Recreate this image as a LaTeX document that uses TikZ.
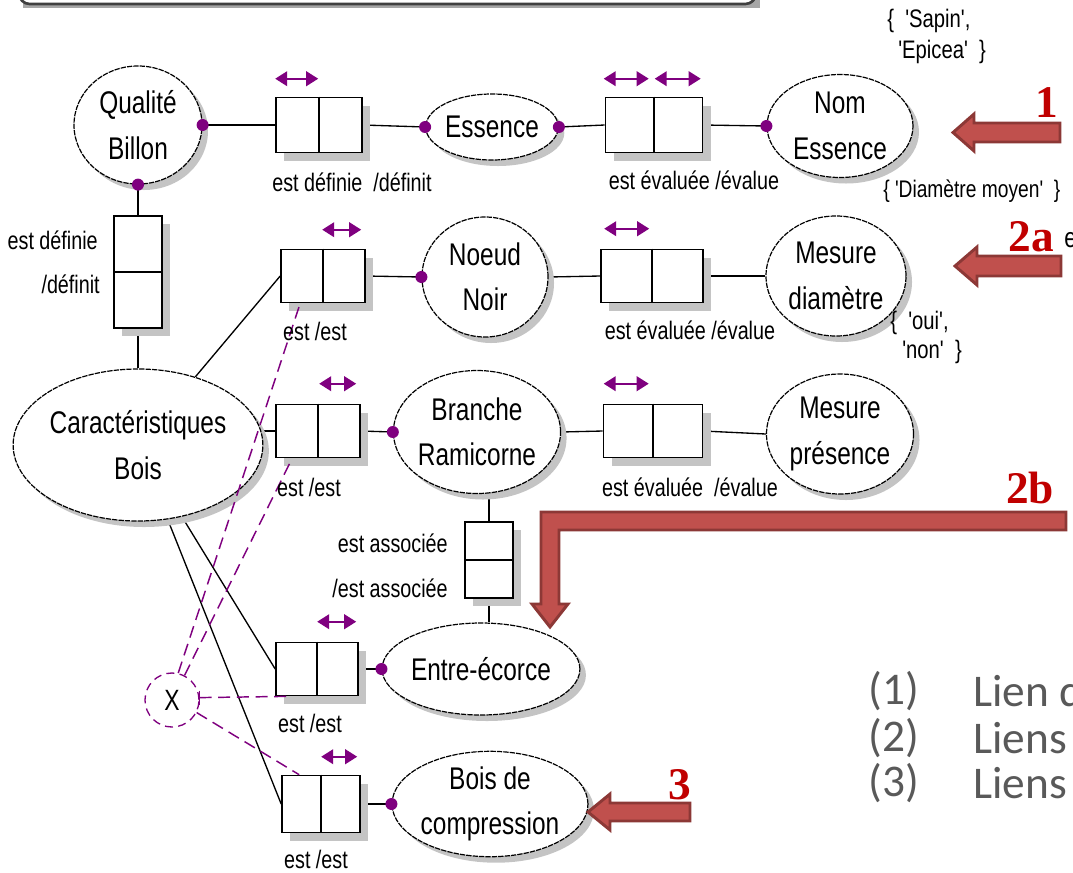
\documentclass[tikz,border=0pt]{standalone}
\usepackage{fontspec}
\newfontfamily\nf{Liberation Sans}[FakeStretch=0.78]
\newfontfamily\qf{Liberation Sans}[FakeStretch=0.8,Ligatures=TeXOff]
\newfontfamily\rf{Liberation Serif}
\newfontfamily\cf{Carlito}
\usetikzlibrary{shapes.geometric,shadows,arrows.meta,calc}
\definecolor{pur}{HTML}{7F007F}
\definecolor{redf}{HTML}{C0504D}
\definecolor{redb}{HTML}{8C3836}
\definecolor{numred}{HTML}{C00000}
\definecolor{leg}{HTML}{595959}
\definecolor{shad}{HTML}{C4C4C4}
\pgfdeclarelayer{bg}
\pgfsetlayers{bg,main}
\begin{document}
\begin{tikzpicture}[x=0.75pt,y=-0.75pt,
  ent/.style 2 args={ellipse, draw=black, line width=0.9pt, dash pattern=on 4pt off 0.8pt,
    fill=white, minimum width=#1*0.75pt, minimum height=#2*0.75pt, inner sep=0pt,
    align=center, font=\nf\fontsize{23.5}{34}\selectfont,
    drop shadow={shadow xshift=4.5pt, shadow yshift=-4.5pt, fill=shad, opacity=1}},
  rel/.style 2 args={rectangle, draw=black, line width=1.2pt, fill=white,
    minimum width=#1*0.75pt, minimum height=#2*0.75pt, inner sep=0pt,
    drop shadow={shadow xshift=6pt, shadow yshift=-6pt, fill=shad, opacity=1}},
  lab/.style={font=\nf\fontsize{19}{22}\selectfont, inner sep=0pt},
  setl/.style={font=\qf\fontsize{19}{22}\selectfont, inner sep=0pt, anchor=west},
  conn/.style={line width=1pt, black},
  dl/.style={line width=1.1pt, pur, dash pattern=on 9pt off 5pt},
  dbl/.style={line width=1.4pt, pur, {Triangle[length=9pt,width=11pt]}-{Triangle[length=9pt,width=11pt]}},
  num/.style={font=\rf\bfseries\fontsize{34}{34}\selectfont, text=numred, inner sep=0pt},
  redarr/.style={fill=redf, draw=redb, line width=2.2pt, line join=miter},
  legn/.style={font=\cf\fontsize{34}{34}\selectfont, text=leg, anchor=west, inner sep=0pt}
]
\useasboundingbox (0,0) rectangle (1073,872);
\clip (0,0) rectangle (1073,872);

% top bar
\fill[black!35] (23,-30) rectangle (760,8);
\draw[line width=2pt, draw=black!75, fill=white, rounded corners=8] (19,-30) rectangle (756,4);

% entities
\node[ent={128}{118}] (qb) at (138,125) {Qualité\\Billon};
\node[ent={120}{66}] (ess) at (492,127) {Essence};
\node[ent={146}{103}] (nom) at (840,126) {Nom\\Essence};
\node[ent={126}{120}] (nn) at (485,277) {Noeud\\Noir};
\node[ent={140}{120}] (md) at (836,276) {Mesure\\diamètre};
\node[ent={143}{123}] (br) at (477,432) {Branche\\Ramicorne};
\node[ent={147}{120}] (mp) at (840,434) {Mesure\\présence};
\node[ent={214}{152}] (cb) at (138,445) {Caractéristiques\\Bois};
\node[ent={146}{92}] (ee) at (481,669) {Entre-écorce};
\node[ent={152}{88}] (bc) at (490,804) {Bois de\\compression};

% relationship boxes
\node[rel={86}{55}] (r1) at (319,125) {};
\node[rel={97}{55}] (r2) at (654,125) {};
\node[rel={48}{112}] (rv1) at (138,272) {};
\node[rel={84}{53}] (r3) at (323,276) {};
\node[rel={102}{53}] (r4) at (652,276) {};
\node[rel={84}{53}] (r5) at (318,431) {};
\node[rel={99}{53}] (r6) at (653,431) {};
\node[rel={48}{76}] (rv2) at (489,560) {};
\node[rel={82}{53}] (r7) at (317,669) {};
\node[rel={78}{57}] (r8) at (321,804) {};
\foreach \b in {r1,r2,r3,r4,r5,r6,r7,r8}{\draw[line width=1.2pt] (\b.north) -- (\b.south);}
\foreach \b in {rv1,rv2}{\draw[line width=1.2pt] (\b.west) -- (\b.east);}

% X node
\node[circle, draw=pur, line width=1pt, dash pattern=on 6pt off 4pt, minimum size=54*0.75pt,
  inner sep=0pt, font=\nf\fontsize{22}{22}\selectfont] (xx) at (172,700) {X};

% connectors
\begin{pgfonlayer}{bg}
\draw[conn] (qb.east) -- (r1.west);
\draw[conn] (r1.east) -- (ess.west);
\draw[conn] (ess.east) -- (r2.west);
\draw[conn] (r2.east) -- (nom.west);
\draw[conn] (rv1.north) -- (rv1.north |- qb.south);
\draw[conn] (rv1.south) -- (rv1.south |- cb.north);
\draw[conn] (cb) -- (r3.west);
\draw[conn] (r3.east) -- (nn.west);
\draw[conn] (nn.east) -- (r4.west);
\draw[conn] (r4.east) -- (md.west);
\draw[conn] (r5.west) -- (cb.east |- r5.west);
\draw[conn] (r5.east) -- (br.west);
\draw[conn] (br.east) -- (r6.west);
\draw[conn] (r6.east) -- (mp.west);
\draw[conn] (rv2.north) -- (rv2.north |- br.south);
\draw[conn] (rv2.south) -- (rv2.south |- ee.north);
\draw[conn] (cb) -- (r7.west);
\draw[conn] (r7.east) -- (ee.west);
\draw[conn] (cb) -- (r8.west);
\draw[conn] (r8.east) -- (bc.west);
\end{pgfonlayer}

% dashed links from X
\draw[dl] (xx.77) -- ($(r3.south west)+(20,0)$);
\draw[dl] (xx.63) -- ($(r5.south west)+(17,0)$);
\draw[dl] (xx.5) -- ($(r7.south west)+(17,0)$);
\draw[dl] (xx.-27) -- ($(r8.north west)+(18,0)$);
\draw[pur, line width=1pt] ($(xx.5)+(0,-7)$) -- ($(xx.5)+(0,7)$);

% dots
\foreach \p in {qb.east, ess.west, ess.east, nom.west, nn.west, br.west, ee.west, bc.west}{\fill[pur] (\p) circle (6);}
\fill[pur] (rv1.north |- qb.south) circle (6);

% double arrows
\draw[dbl] ($(r1.north west)+(0,-18)$) -- ($(r1.north west)+(43,-18)$);
\draw[dbl] ($(r2.north west)+(-1,-18)$) -- ($(r2.north west)+(44,-18)$);
\draw[dbl] ($(r2.north west)+(50,-18)$) -- ($(r2.north west)+(96,-18)$);
\draw[dbl] ($(r3.north west)+(42,-19)$) -- ($(r3.north west)+(81,-19)$);
\draw[dbl] ($(r4.north west)+(4,-20)$) -- ($(r4.north west)+(49,-20)$);
\draw[dbl] ($(r5.north west)+(44,-20)$) -- ($(r5.north west)+(81,-20)$);
\draw[dbl] ($(r6.north west)+(1,-20)$) -- ($(r6.north west)+(46,-20)$);
\draw[dbl] ($(r7.north west)+(42,-20)$) -- ($(r7.north west)+(81,-20)$);
\draw[dbl] ($(r8.north west)+(40,-18)$) -- ($(r8.north west)+(76,-18)$);

% labels
\node[lab] (l1) at (352,182) {est définie~~/définit};
\node[lab] (l2) at (694,180) {est évaluée /évalue};
\node[lab, anchor=east] (lv1a) at (98,240) {est définie};
\node[lab, anchor=east] (lv1b) at (100,284) {/définit};
\node[lab] (l3) at (315,331) {est /est};
\node[lab] (l4) at (690,330) {est évaluée /évalue};
\node[lab] (l5) at (309,487) {est /est};
\node[lab] (l6) at (690,487) {est évaluée~~/évalue};
\node[lab, anchor=east] (lv2a) at (448,543) {est associée};
\node[lab, anchor=east] (lv2b) at (448,588) {/est associée};
\node[lab] (l7) at (310,723) {est /est};
\node[lab] (l8) at (316,859) {est /est};

% value sets
\node[setl] (s1) at (887,21) {\{~~'Sapin',};
\node[setl] (s2) at (898,52) {'Epicea'~~\}};
\node[setl, font=\qf\fontsize{18}{22}\selectfont] (s3) at (883,191) {\{~'Diamètre moyen'~~\}};
\node[setl] (s4) at (890,323) {\{~~'oui',};
\node[setl] (s5) at (902,352) {'non'~~\}};

% red arrows
\draw[redarr] (1060,123) -- (974,123) -- (974,114) -- (953,132.5) -- (974,151) -- (974,142) -- (1060,142) -- cycle;
\draw[redarr] (1061,256) -- (977,256) -- (977,247) -- (955,266) -- (977,285) -- (977,276) -- (1061,276) -- cycle;
\draw[redarr] (690,803) -- (610,803) -- (610,794) -- (588,812) -- (610,830) -- (610,821) -- (690,821) -- cycle;
\draw[redarr] (1066,512) -- (541,512) -- (541,604) -- (532,604) -- (550,627) -- (568,604) -- (559,604) -- (559,530) -- (1066,530) -- cycle;

% numbers
\node[num] (n1) at (1047,103) {1};
\node[num] (n2a) at (1031,237) {2a};
\node[num] (n2b) at (1030,488) {2b};
\node[num] (n3) at (680,785) {3};
\node[font=\nf\fontsize{21}{21}\selectfont, anchor=west, inner sep=0pt] (e2a) at (1064,240) {e};

% legend
\node[legn] (g1) at (868,691) {(1)};
\node[legn] (g1t) at (973,691) {Lien d};
\node[legn] (g2) at (868,738) {(2)};
\node[legn] (g2t) at (973,738) {Liens};
\node[legn] (g3) at (868,783) {(3)};
\node[legn] (g3t) at (973,783) {Liens};
\end{tikzpicture}
\end{document}
